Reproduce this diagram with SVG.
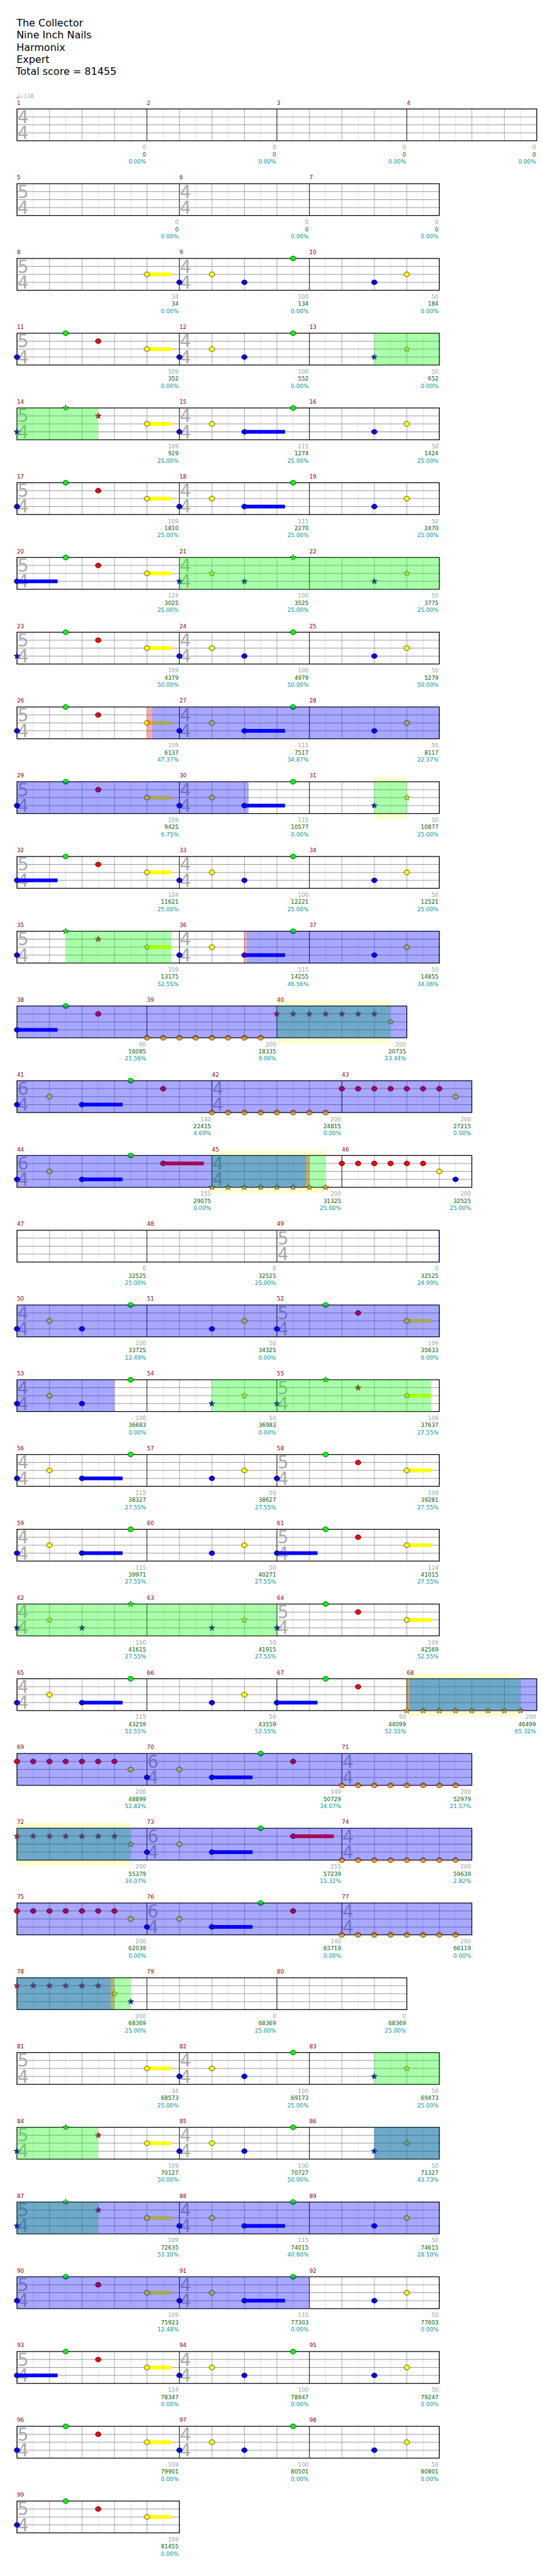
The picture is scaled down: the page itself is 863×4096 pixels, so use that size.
<svg xmlns="http://www.w3.org/2000/svg" width="863" height="4096" viewBox="0 0 863 4096">
<defs>
<style>
text{font-family:"DejaVu Sans","Liberation Sans",sans-serif}
.t{font-size:19px;fill:#000}
.mn{font-size:10.5px;fill:#8b0000}
.ts{font-size:33px;fill:#aaa}
.a,.b,.c{font-size:10.5px;text-anchor:end}
.a{fill:#a0a0a0}.b{fill:#006400}.c{fill:#009999}
.st{fill:url(#grid)}
.ln{fill:none;stroke:#999;stroke-width:1.2}
.ms{fill:none;stroke:#000;stroke-width:1}
.bd{fill:none;stroke:#000;stroke-width:1.5}
.G{fill:#00ff00}.R{fill:#ff0000}.Y{fill:#ffff00}.B{fill:#0000ff}.O{fill:#ffa500}
.ob{fill:#0000ff;fill-opacity:.34}.og{fill:#00ff00;fill-opacity:.33}.or{fill:#ff0000;fill-opacity:.33}.hl{fill:#ffffd0}
</style>
<pattern id="grid" patternUnits="userSpaceOnUse" x="31.5" y="0" width="61.25" height="60">
<rect width="61.25" height="60" fill="#fff"/>
<rect x="30.625" width="1" height="60" fill="#dddddd"/>
<rect x="0" width="1" height="60" fill="#999"/>
</pattern>
<ellipse id="n" rx="5.25" ry="4.6" stroke="#000" stroke-width="0.8"/>
<path id="s" d="M0-6L1.47-2.02 5.71-1.85 2.38.77 3.53 4.85 0 2.5-3.53 4.85-2.38.77-5.71-1.85-1.47-2.02Z" stroke="#000" stroke-width="0.6"/>
</defs>
<rect width="863" height="4096" fill="#fff"/>
<g transform="scale(0.843)">
<g id="title">
<text class="t" x="31" y="49.3">The Collector</text>
<text class="t" x="31" y="72.4">Nine Inch Nails</text>
<text class="t" x="31" y="95.5">Harmonix</text>
<text class="t" x="31" y="118.6">Expert</text>
<text class="t" x="30" y="141.7">Total score = 81455</text>
</g>

<g id="row1" transform="translate(0,205.5)">
<ellipse cx="33.5" cy="-21.3" rx="2.3" ry="1.7" fill="#aaa"/><path d="M35.6-21.3V-30" stroke="#aaa" stroke-width="0.8"/>
<text x="36.5" y="-20.5" font-size="10" fill="#aaa">=138</text>
<rect class="st" x="32" width="980" height="60"/>
<path class="ln" d="M32 15H1012M32 30H1012M32 45H1012"/>
<path class="ms" d="M277 0V60M522 0V60M767 0V60"/>
<rect class="bd" x="32" width="980" height="60"/>
<text class="ts" x="33" y="26.8">4</text><text class="ts" x="33" y="56.8">4</text>
<text class="mn" x="32" y="-8">1</text><text class="mn" x="277" y="-8">2</text><text class="mn" x="522" y="-8">3</text><text class="mn" x="767" y="-8">4</text>
<text class="a" x="275.5" y="76">0</text><text class="b" x="275.5" y="89.5">0</text><text class="c" x="275.5" y="103">0.00%</text>
<text class="a" x="520.5" y="76">0</text><text class="b" x="520.5" y="89.5">0</text><text class="c" x="520.5" y="103">0.00%</text>
<text class="a" x="765.5" y="76">0</text><text class="b" x="765.5" y="89.5">0</text><text class="c" x="765.5" y="103">0.00%</text>
<text class="a" x="1010.5" y="76">0</text><text class="b" x="1010.5" y="89.5">0</text><text class="c" x="1010.5" y="103">0.00%</text>
</g>

<g id="row2" transform="translate(0,346.5)">
<rect class="st" x="32" width="796.25" height="60"/>
<path class="ln" d="M32 15H828.25M32 30H828.25M32 45H828.25"/>
<path class="ms" d="M338.25 0V60M583.25 0V60"/>
<rect class="bd" x="32" width="796.25" height="60"/>
<text class="ts" x="33" y="26.8">5</text><text class="ts" x="33" y="56.8">4</text><text class="ts" x="339.25" y="26.8">4</text><text class="ts" x="339.25" y="56.8">4</text>
<text class="mn" x="32" y="-8">5</text><text class="mn" x="338.25" y="-8">6</text><text class="mn" x="583.25" y="-8">7</text>
<text class="a" x="336.75" y="76">0</text><text class="b" x="336.75" y="89.5">0</text><text class="c" x="336.75" y="103">0.00%</text>
<text class="a" x="581.75" y="76">0</text><text class="b" x="581.75" y="89.5">0</text><text class="c" x="581.75" y="103">0.00%</text>
<text class="a" x="826.75" y="76">0</text><text class="b" x="826.75" y="89.5">0</text><text class="c" x="826.75" y="103">0.00%</text>
</g>

<g id="row3" transform="translate(0,487.5)">
<rect class="st" x="32" width="796.25" height="60"/>
<path class="ln" d="M32 15H828.25M32 30H828.25M32 45H828.25"/>
<path class="ms" d="M338.25 0V60M583.25 0V60"/>
<rect class="bd" x="32" width="796.25" height="60"/>
<text class="ts" x="33" y="26.8">5</text><text class="ts" x="33" y="56.8">4</text><text class="ts" x="339.25" y="26.8">4</text><text class="ts" x="339.25" y="56.8">4</text>
<text class="mn" x="32" y="-8">8</text><text class="mn" x="338.25" y="-8">9</text><text class="mn" x="583.25" y="-8">10</text>
<text class="a" x="336.75" y="76">34</text><text class="b" x="336.75" y="89.5">34</text><text class="c" x="336.75" y="103">0.00%</text>
<text class="a" x="581.75" y="76">100</text><text class="b" x="581.75" y="89.5">134</text><text class="c" x="581.75" y="103">0.00%</text>
<text class="a" x="826.75" y="76">50</text><text class="b" x="826.75" y="89.5">184</text><text class="c" x="826.75" y="103">0.00%</text>
<rect class="Y" x="277" y="26.5" width="45.94" height="7"/>
<use href="#n" class="Y" x="277" y="30"/><use href="#n" class="B" x="338.25" y="45"/><use href="#n" class="Y" x="399.5" y="30"/><use href="#n" class="B" x="460.75" y="45"/><use href="#n" class="G" x="552.63" y="0"/><use href="#n" class="B" x="705.75" y="45"/><use href="#n" class="Y" x="767" y="30"/>
</g>

<g id="row4" transform="translate(0,628.5)">
<rect class="st" x="32" width="796.25" height="60"/>
<path class="ln" d="M32 15H828.25M32 30H828.25M32 45H828.25"/>
<path class="ms" d="M338.25 0V60M583.25 0V60"/>
<rect class="bd" x="32" width="796.25" height="60"/>
<text class="ts" x="33" y="26.8">5</text><text class="ts" x="33" y="56.8">4</text><text class="ts" x="339.25" y="26.8">4</text><text class="ts" x="339.25" y="56.8">4</text>
<text class="mn" x="32" y="-8">11</text><text class="mn" x="338.25" y="-8">12</text><text class="mn" x="583.25" y="-8">13</text>
<text class="a" x="336.75" y="76">109</text><text class="b" x="336.75" y="89.5">352</text><text class="c" x="336.75" y="103">0.00%</text>
<text class="a" x="581.75" y="76">100</text><text class="b" x="581.75" y="89.5">552</text><text class="c" x="581.75" y="103">0.00%</text>
<text class="a" x="826.75" y="76">50</text><text class="b" x="826.75" y="89.5">652</text><text class="c" x="826.75" y="103">0.00%</text>
<rect class="Y" x="277" y="26.5" width="45.94" height="7"/>
<use href="#n" class="B" x="32" y="45"/><use href="#n" class="G" x="123.88" y="0"/><use href="#n" class="R" x="185.13" y="15"/><use href="#n" class="Y" x="277" y="30"/><use href="#n" class="B" x="338.25" y="45"/><use href="#n" class="Y" x="399.5" y="30"/><use href="#n" class="B" x="460.75" y="45"/><use href="#n" class="G" x="552.63" y="0"/><use href="#s" class="B" x="705.75" y="45"/><use href="#s" class="Y" x="767" y="30"/>
<rect class="og" x="705.75" width="122.5" height="60"/>
</g>

<g id="row5" transform="translate(0,769.5)">
<rect class="st" x="32" width="796.25" height="60"/>
<path class="ln" d="M32 15H828.25M32 30H828.25M32 45H828.25"/>
<path class="ms" d="M338.25 0V60M583.25 0V60"/>
<rect class="bd" x="32" width="796.25" height="60"/>
<text class="ts" x="33" y="26.8">5</text><text class="ts" x="33" y="56.8">4</text><text class="ts" x="339.25" y="26.8">4</text><text class="ts" x="339.25" y="56.8">4</text>
<text class="mn" x="32" y="-8">14</text><text class="mn" x="338.25" y="-8">15</text><text class="mn" x="583.25" y="-8">16</text>
<text class="a" x="336.75" y="76">109</text><text class="b" x="336.75" y="89.5">929</text><text class="c" x="336.75" y="103">25.00%</text>
<text class="a" x="581.75" y="76">115</text><text class="b" x="581.75" y="89.5">1274</text><text class="c" x="581.75" y="103">25.00%</text>
<text class="a" x="826.75" y="76">50</text><text class="b" x="826.75" y="89.5">1424</text><text class="c" x="826.75" y="103">25.00%</text>
<rect class="Y" x="277" y="26.5" width="45.94" height="7"/><rect class="B" x="460.75" y="41.5" width="76.56" height="7"/>
<use href="#s" class="B" x="32" y="45"/><use href="#s" class="G" x="123.88" y="0"/><use href="#s" class="R" x="185.13" y="15"/><use href="#n" class="Y" x="277" y="30"/><use href="#n" class="B" x="338.25" y="45"/><use href="#n" class="Y" x="399.5" y="30"/><use href="#n" class="B" x="460.75" y="45"/><use href="#n" class="G" x="552.63" y="0"/><use href="#n" class="B" x="705.75" y="45"/><use href="#n" class="Y" x="767" y="30"/>
<rect class="og" x="32" width="153.13" height="60"/>
</g>

<g id="row6" transform="translate(0,910.5)">
<rect class="st" x="32" width="796.25" height="60"/>
<path class="ln" d="M32 15H828.25M32 30H828.25M32 45H828.25"/>
<path class="ms" d="M338.25 0V60M583.25 0V60"/>
<rect class="bd" x="32" width="796.25" height="60"/>
<text class="ts" x="33" y="26.8">5</text><text class="ts" x="33" y="56.8">4</text><text class="ts" x="339.25" y="26.8">4</text><text class="ts" x="339.25" y="56.8">4</text>
<text class="mn" x="32" y="-8">17</text><text class="mn" x="338.25" y="-8">18</text><text class="mn" x="583.25" y="-8">19</text>
<text class="a" x="336.75" y="76">109</text><text class="b" x="336.75" y="89.5">1810</text><text class="c" x="336.75" y="103">25.00%</text>
<text class="a" x="581.75" y="76">115</text><text class="b" x="581.75" y="89.5">2270</text><text class="c" x="581.75" y="103">25.00%</text>
<text class="a" x="826.75" y="76">50</text><text class="b" x="826.75" y="89.5">2470</text><text class="c" x="826.75" y="103">25.00%</text>
<rect class="Y" x="277" y="26.5" width="45.94" height="7"/><rect class="B" x="460.75" y="41.5" width="76.56" height="7"/>
<use href="#n" class="B" x="32" y="45"/><use href="#n" class="G" x="123.88" y="0"/><use href="#n" class="R" x="185.13" y="15"/><use href="#n" class="Y" x="277" y="30"/><use href="#n" class="B" x="338.25" y="45"/><use href="#n" class="Y" x="399.5" y="30"/><use href="#n" class="B" x="460.75" y="45"/><use href="#n" class="G" x="552.63" y="0"/><use href="#n" class="B" x="705.75" y="45"/><use href="#n" class="Y" x="767" y="30"/>
</g>

<g id="row7" transform="translate(0,1051.5)">
<rect class="st" x="32" width="796.25" height="60"/>
<path class="ln" d="M32 15H828.25M32 30H828.25M32 45H828.25"/>
<path class="ms" d="M338.25 0V60M583.25 0V60"/>
<rect class="bd" x="32" width="796.25" height="60"/>
<text class="ts" x="33" y="26.8">5</text><text class="ts" x="33" y="56.8">4</text><text class="ts" x="339.25" y="26.8">4</text><text class="ts" x="339.25" y="56.8">4</text>
<text class="mn" x="32" y="-8">20</text><text class="mn" x="338.25" y="-8">21</text><text class="mn" x="583.25" y="-8">22</text>
<text class="a" x="336.75" y="76">124</text><text class="b" x="336.75" y="89.5">3025</text><text class="c" x="336.75" y="103">25.00%</text>
<text class="a" x="581.75" y="76">100</text><text class="b" x="581.75" y="89.5">3525</text><text class="c" x="581.75" y="103">25.00%</text>
<text class="a" x="826.75" y="76">50</text><text class="b" x="826.75" y="89.5">3775</text><text class="c" x="826.75" y="103">25.00%</text>
<rect class="B" x="32" y="41.5" width="76.56" height="7"/><rect class="Y" x="277" y="26.5" width="45.94" height="7"/>
<use href="#n" class="B" x="32" y="45"/><use href="#n" class="G" x="123.88" y="0"/><use href="#n" class="R" x="185.13" y="15"/><use href="#n" class="Y" x="277" y="30"/><use href="#s" class="B" x="338.25" y="45"/><use href="#s" class="Y" x="399.5" y="30"/><use href="#s" class="B" x="460.75" y="45"/><use href="#s" class="G" x="552.63" y="0"/><use href="#s" class="B" x="705.75" y="45"/><use href="#s" class="Y" x="767" y="30"/>
<rect class="og" x="338.25" width="490" height="60"/>
</g>

<g id="row8" transform="translate(0,1192.5)">
<rect class="st" x="32" width="796.25" height="60"/>
<path class="ln" d="M32 15H828.25M32 30H828.25M32 45H828.25"/>
<path class="ms" d="M338.25 0V60M583.25 0V60"/>
<rect class="bd" x="32" width="796.25" height="60"/>
<text class="ts" x="33" y="26.8">5</text><text class="ts" x="33" y="56.8">4</text><text class="ts" x="339.25" y="26.8">4</text><text class="ts" x="339.25" y="56.8">4</text>
<text class="mn" x="32" y="-8">23</text><text class="mn" x="338.25" y="-8">24</text><text class="mn" x="583.25" y="-8">25</text>
<text class="a" x="336.75" y="76">109</text><text class="b" x="336.75" y="89.5">4379</text><text class="c" x="336.75" y="103">50.00%</text>
<text class="a" x="581.75" y="76">100</text><text class="b" x="581.75" y="89.5">4979</text><text class="c" x="581.75" y="103">50.00%</text>
<text class="a" x="826.75" y="76">50</text><text class="b" x="826.75" y="89.5">5279</text><text class="c" x="826.75" y="103">50.00%</text>
<rect class="Y" x="277" y="26.5" width="45.94" height="7"/>
<use href="#s" class="B" x="32" y="45"/><use href="#n" class="G" x="123.88" y="0"/><use href="#n" class="R" x="185.13" y="15"/><use href="#n" class="Y" x="277" y="30"/><use href="#n" class="B" x="338.25" y="45"/><use href="#n" class="Y" x="399.5" y="30"/><use href="#n" class="B" x="460.75" y="45"/><use href="#n" class="G" x="552.63" y="0"/><use href="#n" class="B" x="705.75" y="45"/><use href="#n" class="Y" x="767" y="30"/>
</g>

<g id="row9" transform="translate(0,1333.5)">
<rect class="st" x="32" width="796.25" height="60"/>
<path class="ln" d="M32 15H828.25M32 30H828.25M32 45H828.25"/>
<path class="ms" d="M338.25 0V60M583.25 0V60"/>
<rect class="bd" x="32" width="796.25" height="60"/>
<text class="ts" x="33" y="26.8">5</text><text class="ts" x="33" y="56.8">4</text><text class="ts" x="339.25" y="26.8">4</text><text class="ts" x="339.25" y="56.8">4</text>
<text class="mn" x="32" y="-8">26</text><text class="mn" x="338.25" y="-8">27</text><text class="mn" x="583.25" y="-8">28</text>
<text class="a" x="336.75" y="76">109</text><text class="b" x="336.75" y="89.5">6137</text><text class="c" x="336.75" y="103">47.37%</text>
<text class="a" x="581.75" y="76">115</text><text class="b" x="581.75" y="89.5">7517</text><text class="c" x="581.75" y="103">34.87%</text>
<text class="a" x="826.75" y="76">50</text><text class="b" x="826.75" y="89.5">8117</text><text class="c" x="826.75" y="103">22.37%</text>
<rect class="Y" x="277" y="26.5" width="45.94" height="7"/><rect class="B" x="460.75" y="41.5" width="76.56" height="7"/>
<use href="#n" class="B" x="32" y="45"/><use href="#n" class="G" x="123.88" y="0"/><use href="#n" class="R" x="185.13" y="15"/><use href="#n" class="Y" x="277" y="30"/><use href="#n" class="B" x="338.25" y="45"/><use href="#n" class="Y" x="399.5" y="30"/><use href="#n" class="B" x="460.75" y="45"/><use href="#n" class="G" x="552.63" y="0"/><use href="#n" class="B" x="705.75" y="45"/><use href="#n" class="Y" x="767" y="30"/>
<rect class="or" x="277" width="9.7" height="60"/><rect class="ob" x="286.7" width="541.55" height="60"/>
</g>

<g id="row10" transform="translate(0,1474.5)">
<rect class="hl" x="705.75" y="-10" width="61.25" height="81"/>
<rect class="st" x="32" width="796.25" height="60"/>
<path class="ln" d="M32 15H828.25M32 30H828.25M32 45H828.25"/>
<path class="ms" d="M338.25 0V60M583.25 0V60"/>
<rect class="bd" x="32" width="796.25" height="60"/>
<text class="ts" x="33" y="26.8">5</text><text class="ts" x="33" y="56.8">4</text><text class="ts" x="339.25" y="26.8">4</text><text class="ts" x="339.25" y="56.8">4</text>
<text class="mn" x="32" y="-8">29</text><text class="mn" x="338.25" y="-8">30</text><text class="mn" x="583.25" y="-8">31</text>
<text class="a" x="336.75" y="76">109</text><text class="b" x="336.75" y="89.5">9425</text><text class="c" x="336.75" y="103">6.75%</text>
<text class="a" x="581.75" y="76">115</text><text class="b" x="581.75" y="89.5">10577</text><text class="c" x="581.75" y="103">0.00%</text>
<text class="a" x="826.75" y="76">50</text><text class="b" x="826.75" y="89.5">10877</text><text class="c" x="826.75" y="103">25.00%</text>
<rect class="Y" x="277" y="26.5" width="45.94" height="7"/><rect class="B" x="460.75" y="41.5" width="76.56" height="7"/>
<use href="#n" class="B" x="32" y="45"/><use href="#n" class="G" x="123.88" y="0"/><use href="#n" class="R" x="185.13" y="15"/><use href="#n" class="Y" x="277" y="30"/><use href="#n" class="B" x="338.25" y="45"/><use href="#n" class="Y" x="399.5" y="30"/><use href="#n" class="B" x="460.75" y="45"/><use href="#n" class="G" x="552.63" y="0"/><use href="#s" class="B" x="705.75" y="45"/><use href="#s" class="Y" x="767" y="30"/>
<rect class="ob" x="32" width="436.7" height="60"/><rect class="og" x="705.75" width="61.25" height="60"/>
</g>

<g id="row11" transform="translate(0,1615.5)">
<rect class="st" x="32" width="796.25" height="60"/>
<path class="ln" d="M32 15H828.25M32 30H828.25M32 45H828.25"/>
<path class="ms" d="M338.25 0V60M583.25 0V60"/>
<rect class="bd" x="32" width="796.25" height="60"/>
<text class="ts" x="33" y="26.8">5</text><text class="ts" x="33" y="56.8">4</text><text class="ts" x="339.25" y="26.8">4</text><text class="ts" x="339.25" y="56.8">4</text>
<text class="mn" x="32" y="-8">32</text><text class="mn" x="338.25" y="-8">33</text><text class="mn" x="583.25" y="-8">34</text>
<text class="a" x="336.75" y="76">124</text><text class="b" x="336.75" y="89.5">11621</text><text class="c" x="336.75" y="103">25.00%</text>
<text class="a" x="581.75" y="76">100</text><text class="b" x="581.75" y="89.5">12221</text><text class="c" x="581.75" y="103">25.00%</text>
<text class="a" x="826.75" y="76">50</text><text class="b" x="826.75" y="89.5">12521</text><text class="c" x="826.75" y="103">25.00%</text>
<rect class="B" x="32" y="41.5" width="76.56" height="7"/><rect class="Y" x="277" y="26.5" width="45.94" height="7"/>
<use href="#n" class="B" x="32" y="45"/><use href="#n" class="G" x="123.88" y="0"/><use href="#n" class="R" x="185.13" y="15"/><use href="#n" class="Y" x="277" y="30"/><use href="#n" class="B" x="338.25" y="45"/><use href="#n" class="Y" x="399.5" y="30"/><use href="#n" class="B" x="460.75" y="45"/><use href="#n" class="G" x="552.63" y="0"/><use href="#n" class="B" x="705.75" y="45"/><use href="#n" class="Y" x="767" y="30"/>
</g>

<g id="row12" transform="translate(0,1756.5)">
<rect class="st" x="32" width="796.25" height="60"/>
<path class="ln" d="M32 15H828.25M32 30H828.25M32 45H828.25"/>
<path class="ms" d="M338.25 0V60M583.25 0V60"/>
<rect class="bd" x="32" width="796.25" height="60"/>
<text class="ts" x="33" y="26.8">5</text><text class="ts" x="33" y="56.8">4</text><text class="ts" x="339.25" y="26.8">4</text><text class="ts" x="339.25" y="56.8">4</text>
<text class="mn" x="32" y="-8">35</text><text class="mn" x="338.25" y="-8">36</text><text class="mn" x="583.25" y="-8">37</text>
<text class="a" x="336.75" y="76">109</text><text class="b" x="336.75" y="89.5">13175</text><text class="c" x="336.75" y="103">52.55%</text>
<text class="a" x="581.75" y="76">115</text><text class="b" x="581.75" y="89.5">14255</text><text class="c" x="581.75" y="103">46.56%</text>
<text class="a" x="826.75" y="76">50</text><text class="b" x="826.75" y="89.5">14855</text><text class="c" x="826.75" y="103">34.06%</text>
<rect class="Y" x="277" y="26.5" width="45.94" height="7"/><rect class="B" x="460.75" y="41.5" width="76.56" height="7"/>
<use href="#n" class="B" x="32" y="45"/><use href="#s" class="G" x="123.88" y="0"/><use href="#s" class="R" x="185.13" y="15"/><use href="#s" class="Y" x="277" y="30"/><use href="#n" class="B" x="338.25" y="45"/><use href="#n" class="Y" x="399.5" y="30"/><use href="#n" class="B" x="460.75" y="45"/><use href="#n" class="G" x="552.63" y="0"/><use href="#n" class="B" x="705.75" y="45"/><use href="#n" class="Y" x="767" y="30"/>
<rect class="og" x="123.88" width="199.06" height="60"/><rect class="or" x="460" width="4.7" height="60"/><rect class="ob" x="464.7" width="363.55" height="60"/>
</g>

<g id="row13" transform="translate(0,1897.5)">
<rect class="hl" x="522" y="-10" width="214.38" height="81"/>
<rect class="st" x="32" width="735" height="60"/>
<path class="ln" d="M32 15H767M32 30H767M32 45H767"/>
<path class="ms" d="M277 0V60M522 0V60"/>
<rect class="bd" x="32" width="735" height="60"/>
<text class="mn" x="32" y="-8">38</text><text class="mn" x="277" y="-8">39</text><text class="mn" x="522" y="-8">40</text>
<text class="a" x="275.5" y="76">90</text><text class="b" x="275.5" y="89.5">16085</text><text class="c" x="275.5" y="103">21.56%</text>
<text class="a" x="520.5" y="76">200</text><text class="b" x="520.5" y="89.5">18335</text><text class="c" x="520.5" y="103">9.06%</text>
<text class="a" x="765.5" y="76">200</text><text class="b" x="765.5" y="89.5">20735</text><text class="c" x="765.5" y="103">23.44%</text>
<rect class="B" x="32" y="41.5" width="76.56" height="7"/>
<use href="#n" class="B" x="32" y="45"/><use href="#n" class="G" x="123.88" y="0"/><use href="#n" class="R" x="185.13" y="15"/>
<use href="#n" class="O" x="277" y="60"/><use href="#n" class="O" x="307.63" y="60"/><use href="#n" class="O" x="338.25" y="60"/><use href="#n" class="O" x="368.88" y="60"/><use href="#n" class="O" x="399.5" y="60"/><use href="#n" class="O" x="430.13" y="60"/><use href="#n" class="O" x="460.75" y="60"/><use href="#n" class="O" x="491.38" y="60"/>
<use href="#s" class="R" x="522" y="15"/><use href="#s" class="R" x="552.63" y="15"/><use href="#s" class="R" x="583.25" y="15"/><use href="#s" class="R" x="613.88" y="15"/><use href="#s" class="R" x="644.5" y="15"/><use href="#s" class="R" x="675.13" y="15"/><use href="#s" class="R" x="705.75" y="15"/><use href="#s" class="Y" x="736.38" y="30"/>
<rect class="og" x="522" width="214.38" height="60"/><rect class="ob" x="32" width="735" height="60"/>
</g>

<g id="row14" transform="translate(0,2038.5)">
<rect class="st" x="32" width="857.5" height="60"/>
<path class="ln" d="M32 15H889.5M32 30H889.5M32 45H889.5"/>
<path class="ms" d="M399.5 0V60M644.5 0V60"/>
<rect class="bd" x="32" width="857.5" height="60"/>
<text class="ts" x="33" y="26.8">6</text><text class="ts" x="33" y="56.8">4</text><text class="ts" x="400.5" y="26.8">4</text><text class="ts" x="400.5" y="56.8">4</text>
<text class="mn" x="32" y="-8">41</text><text class="mn" x="399.5" y="-8">42</text><text class="mn" x="644.5" y="-8">43</text>
<text class="a" x="398" y="76">140</text><text class="b" x="398" y="89.5">22415</text><text class="c" x="398" y="103">4.69%</text>
<text class="a" x="643" y="76">200</text><text class="b" x="643" y="89.5">24815</text><text class="c" x="643" y="103">0.00%</text>
<text class="a" x="888" y="76">200</text><text class="b" x="888" y="89.5">27215</text><text class="c" x="888" y="103">0.00%</text>
<rect class="B" x="154.5" y="41.5" width="76.56" height="7"/>
<use href="#n" class="B" x="32" y="45"/><use href="#n" class="Y" x="93.25" y="30"/><use href="#n" class="B" x="154.5" y="45"/><use href="#n" class="G" x="246.38" y="0"/><use href="#n" class="R" x="307.63" y="15"/>
<use href="#n" class="O" x="399.5" y="60"/><use href="#n" class="O" x="430.13" y="60"/><use href="#n" class="O" x="460.75" y="60"/><use href="#n" class="O" x="491.38" y="60"/><use href="#n" class="O" x="522" y="60"/><use href="#n" class="O" x="552.63" y="60"/><use href="#n" class="O" x="583.25" y="60"/><use href="#n" class="O" x="613.88" y="60"/>
<use href="#n" class="R" x="644.5" y="15"/><use href="#n" class="R" x="675.13" y="15"/><use href="#n" class="R" x="705.75" y="15"/><use href="#n" class="R" x="736.38" y="15"/><use href="#n" class="R" x="767" y="15"/><use href="#n" class="R" x="797.63" y="15"/><use href="#n" class="R" x="828.25" y="15"/><use href="#n" class="Y" x="858.88" y="30"/>
<rect class="ob" x="32" width="857.5" height="60"/>
</g>

<g id="row15" transform="translate(0,2179.5)">
<rect class="hl" x="399.5" y="-10" width="214.38" height="81"/>
<rect class="st" x="32" width="857.5" height="60"/>
<path class="ln" d="M32 15H889.5M32 30H889.5M32 45H889.5"/>
<path class="ms" d="M399.5 0V60M644.5 0V60"/>
<rect class="bd" x="32" width="857.5" height="60"/>
<text class="ts" x="33" y="26.8">6</text><text class="ts" x="33" y="56.8">4</text><text class="ts" x="400.5" y="26.8">4</text><text class="ts" x="400.5" y="56.8">4</text>
<text class="mn" x="32" y="-8">44</text><text class="mn" x="399.5" y="-8">45</text><text class="mn" x="644.5" y="-8">46</text>
<text class="a" x="398" y="76">155</text><text class="b" x="398" y="89.5">29075</text><text class="c" x="398" y="103">0.00%</text>
<text class="a" x="643" y="76">200</text><text class="b" x="643" y="89.5">31325</text><text class="c" x="643" y="103">25.00%</text>
<text class="a" x="888" y="76">200</text><text class="b" x="888" y="89.5">32525</text><text class="c" x="888" y="103">25.00%</text>
<rect class="B" x="154.5" y="41.5" width="76.56" height="7"/><rect class="R" x="307.63" y="11.5" width="76.56" height="7"/>
<use href="#n" class="B" x="32" y="45"/><use href="#n" class="Y" x="93.25" y="30"/><use href="#n" class="B" x="154.5" y="45"/><use href="#n" class="G" x="246.38" y="0"/><use href="#n" class="R" x="307.63" y="15"/>
<use href="#s" class="O" x="399.5" y="60"/><use href="#s" class="O" x="430.13" y="60"/><use href="#s" class="O" x="460.75" y="60"/><use href="#s" class="O" x="491.38" y="60"/><use href="#s" class="O" x="522" y="60"/><use href="#s" class="O" x="552.63" y="60"/><use href="#s" class="O" x="583.25" y="60"/><use href="#s" class="O" x="613.88" y="60"/>
<use href="#n" class="R" x="644.5" y="15"/><use href="#n" class="R" x="675.13" y="15"/><use href="#n" class="R" x="705.75" y="15"/><use href="#n" class="R" x="736.38" y="15"/><use href="#n" class="R" x="767" y="15"/><use href="#n" class="R" x="797.63" y="15"/><use href="#n" class="Y" x="828.25" y="30"/><use href="#n" class="B" x="858.88" y="45"/>
<rect class="og" x="399.5" width="214.38" height="60"/><rect class="ob" x="32" width="544.7" height="60"/><rect class="or" x="576.7" width="6.6" height="60"/>
</g>

<g id="row16" transform="translate(0,2320.5)">
<rect class="st" x="32" width="796.25" height="60"/>
<path class="ln" d="M32 15H828.25M32 30H828.25M32 45H828.25"/>
<path class="ms" d="M277 0V60M522 0V60"/>
<rect class="bd" x="32" width="796.25" height="60"/>
<text class="ts" x="523" y="26.8">5</text><text class="ts" x="523" y="56.8">4</text>
<text class="mn" x="32" y="-8">47</text><text class="mn" x="277" y="-8">48</text><text class="mn" x="522" y="-8">49</text>
<text class="a" x="275.5" y="76">0</text><text class="b" x="275.5" y="89.5">32525</text><text class="c" x="275.5" y="103">25.00%</text>
<text class="a" x="520.5" y="76">0</text><text class="b" x="520.5" y="89.5">32525</text><text class="c" x="520.5" y="103">25.00%</text>
<text class="a" x="826.75" y="76">0</text><text class="b" x="826.75" y="89.5">32525</text><text class="c" x="826.75" y="103">24.99%</text>
<rect class="ob" x="826.75" width="1.5" height="60"/>
</g>

<g id="row17" transform="translate(0,2461.5)">
<rect class="st" x="32" width="796.25" height="60"/>
<path class="ln" d="M32 15H828.25M32 30H828.25M32 45H828.25"/>
<path class="ms" d="M277 0V60M522 0V60"/>
<rect class="bd" x="32" width="796.25" height="60"/>
<text class="ts" x="33" y="26.8">4</text><text class="ts" x="33" y="56.8">4</text><text class="ts" x="523" y="26.8">5</text><text class="ts" x="523" y="56.8">4</text>
<text class="mn" x="32" y="-8">50</text><text class="mn" x="277" y="-8">51</text><text class="mn" x="522" y="-8">52</text>
<text class="a" x="275.5" y="76">100</text><text class="b" x="275.5" y="89.5">33725</text><text class="c" x="275.5" y="103">12.49%</text>
<text class="a" x="520.5" y="76">50</text><text class="b" x="520.5" y="89.5">34325</text><text class="c" x="520.5" y="103">0.00%</text>
<text class="a" x="826.75" y="76">109</text><text class="b" x="826.75" y="89.5">35633</text><text class="c" x="826.75" y="103">0.00%</text>
<rect class="Y" x="767" y="26.5" width="45.94" height="7"/>
<use href="#n" class="B" x="32" y="45"/><use href="#n" class="Y" x="93.25" y="30"/><use href="#n" class="B" x="154.5" y="45"/><use href="#n" class="G" x="246.38" y="0"/><use href="#n" class="B" x="399.5" y="45"/><use href="#n" class="Y" x="460.75" y="30"/><use href="#n" class="B" x="522" y="45"/><use href="#n" class="G" x="613.88" y="0"/><use href="#n" class="R" x="675.13" y="15"/><use href="#n" class="Y" x="767" y="30"/>
<rect class="ob" x="32" width="796.25" height="60"/>
</g>

<g id="row18" transform="translate(0,2602.5)">
<rect class="st" x="32" width="796.25" height="60"/>
<path class="ln" d="M32 15H828.25M32 30H828.25M32 45H828.25"/>
<path class="ms" d="M277 0V60M522 0V60"/>
<rect class="bd" x="32" width="796.25" height="60"/>
<text class="ts" x="33" y="26.8">4</text><text class="ts" x="33" y="56.8">4</text><text class="ts" x="523" y="26.8">5</text><text class="ts" x="523" y="56.8">4</text>
<text class="mn" x="32" y="-8">53</text><text class="mn" x="277" y="-8">54</text><text class="mn" x="522" y="-8">55</text>
<text class="a" x="275.5" y="76">100</text><text class="b" x="275.5" y="89.5">36683</text><text class="c" x="275.5" y="103">0.00%</text>
<text class="a" x="520.5" y="76">50</text><text class="b" x="520.5" y="89.5">36983</text><text class="c" x="520.5" y="103">0.00%</text>
<text class="a" x="826.75" y="76">109</text><text class="b" x="826.75" y="89.5">37637</text><text class="c" x="826.75" y="103">27.55%</text>
<rect class="Y" x="767" y="26.5" width="45.94" height="7"/>
<use href="#n" class="B" x="32" y="45"/><use href="#n" class="Y" x="93.25" y="30"/><use href="#n" class="B" x="154.5" y="45"/><use href="#n" class="G" x="246.38" y="0"/><use href="#s" class="B" x="399.5" y="45"/><use href="#s" class="Y" x="460.75" y="30"/><use href="#s" class="B" x="522" y="45"/><use href="#s" class="G" x="613.88" y="0"/><use href="#s" class="R" x="675.13" y="15"/><use href="#s" class="Y" x="767" y="30"/>
<rect class="ob" x="32" width="183.75" height="60"/><rect class="og" x="399.5" width="413.44" height="60"/>
</g>

<g id="row19" transform="translate(0,2743.5)">
<rect class="st" x="32" width="796.25" height="60"/>
<path class="ln" d="M32 15H828.25M32 30H828.25M32 45H828.25"/>
<path class="ms" d="M277 0V60M522 0V60"/>
<rect class="bd" x="32" width="796.25" height="60"/>
<text class="ts" x="33" y="26.8">4</text><text class="ts" x="33" y="56.8">4</text><text class="ts" x="523" y="26.8">5</text><text class="ts" x="523" y="56.8">4</text>
<text class="mn" x="32" y="-8">56</text><text class="mn" x="277" y="-8">57</text><text class="mn" x="522" y="-8">58</text>
<text class="a" x="275.5" y="76">115</text><text class="b" x="275.5" y="89.5">38327</text><text class="c" x="275.5" y="103">27.55%</text>
<text class="a" x="520.5" y="76">50</text><text class="b" x="520.5" y="89.5">38627</text><text class="c" x="520.5" y="103">27.55%</text>
<text class="a" x="826.75" y="76">109</text><text class="b" x="826.75" y="89.5">39281</text><text class="c" x="826.75" y="103">27.55%</text>
<rect class="B" x="154.5" y="41.5" width="76.56" height="7"/><rect class="Y" x="767" y="26.5" width="45.94" height="7"/>
<use href="#n" class="B" x="32" y="45"/><use href="#n" class="Y" x="93.25" y="30"/><use href="#n" class="B" x="154.5" y="45"/><use href="#n" class="G" x="246.38" y="0"/><use href="#n" class="B" x="399.5" y="45"/><use href="#n" class="Y" x="460.75" y="30"/><use href="#n" class="B" x="522" y="45"/><use href="#n" class="G" x="613.88" y="0"/><use href="#n" class="R" x="675.13" y="15"/><use href="#n" class="Y" x="767" y="30"/>
</g>

<g id="row20" transform="translate(0,2884.5)">
<rect class="st" x="32" width="796.25" height="60"/>
<path class="ln" d="M32 15H828.25M32 30H828.25M32 45H828.25"/>
<path class="ms" d="M277 0V60M522 0V60"/>
<rect class="bd" x="32" width="796.25" height="60"/>
<text class="ts" x="33" y="26.8">4</text><text class="ts" x="33" y="56.8">4</text><text class="ts" x="523" y="26.8">5</text><text class="ts" x="523" y="56.8">4</text>
<text class="mn" x="32" y="-8">59</text><text class="mn" x="277" y="-8">60</text><text class="mn" x="522" y="-8">61</text>
<text class="a" x="275.5" y="76">115</text><text class="b" x="275.5" y="89.5">39971</text><text class="c" x="275.5" y="103">27.55%</text>
<text class="a" x="520.5" y="76">50</text><text class="b" x="520.5" y="89.5">40271</text><text class="c" x="520.5" y="103">27.55%</text>
<text class="a" x="826.75" y="76">124</text><text class="b" x="826.75" y="89.5">41015</text><text class="c" x="826.75" y="103">27.55%</text>
<rect class="B" x="154.5" y="41.5" width="76.56" height="7"/><rect class="B" x="522" y="41.5" width="76.56" height="7"/><rect class="Y" x="767" y="26.5" width="45.94" height="7"/>
<use href="#n" class="B" x="32" y="45"/><use href="#n" class="Y" x="93.25" y="30"/><use href="#n" class="B" x="154.5" y="45"/><use href="#n" class="G" x="246.38" y="0"/><use href="#n" class="B" x="399.5" y="45"/><use href="#n" class="Y" x="460.75" y="30"/><use href="#n" class="B" x="522" y="45"/><use href="#n" class="G" x="613.88" y="0"/><use href="#n" class="R" x="675.13" y="15"/><use href="#n" class="Y" x="767" y="30"/>
</g>

<g id="row21" transform="translate(0,3025.5)">
<rect class="st" x="32" width="796.25" height="60"/>
<path class="ln" d="M32 15H828.25M32 30H828.25M32 45H828.25"/>
<path class="ms" d="M277 0V60M522 0V60"/>
<rect class="bd" x="32" width="796.25" height="60"/>
<text class="ts" x="33" y="26.8">4</text><text class="ts" x="33" y="56.8">4</text><text class="ts" x="523" y="26.8">5</text><text class="ts" x="523" y="56.8">4</text>
<text class="mn" x="32" y="-8">62</text><text class="mn" x="277" y="-8">63</text><text class="mn" x="522" y="-8">64</text>
<text class="a" x="275.5" y="76">100</text><text class="b" x="275.5" y="89.5">41615</text><text class="c" x="275.5" y="103">27.55%</text>
<text class="a" x="520.5" y="76">50</text><text class="b" x="520.5" y="89.5">41915</text><text class="c" x="520.5" y="103">27.55%</text>
<text class="a" x="826.75" y="76">109</text><text class="b" x="826.75" y="89.5">42569</text><text class="c" x="826.75" y="103">52.55%</text>
<rect class="Y" x="767" y="26.5" width="45.94" height="7"/>
<use href="#s" class="B" x="32" y="45"/><use href="#s" class="Y" x="93.25" y="30"/><use href="#s" class="B" x="154.5" y="45"/><use href="#s" class="G" x="246.38" y="0"/><use href="#s" class="B" x="399.5" y="45"/><use href="#s" class="Y" x="460.75" y="30"/><use href="#s" class="B" x="522" y="45"/><use href="#n" class="G" x="613.88" y="0"/><use href="#n" class="R" x="675.13" y="15"/><use href="#n" class="Y" x="767" y="30"/>
<rect class="og" x="32" width="490" height="60"/>
</g>

<g id="row22" transform="translate(0,3166.5)">
<rect class="hl" x="767" y="-10" width="214.38" height="81"/>
<rect class="st" x="32" width="980" height="60"/>
<path class="ln" d="M32 15H1012M32 30H1012M32 45H1012"/>
<path class="ms" d="M277 0V60M522 0V60M767 0V60"/>
<rect class="bd" x="32" width="980" height="60"/>
<text class="ts" x="33" y="26.8">4</text><text class="ts" x="33" y="56.8">4</text>
<text class="mn" x="32" y="-8">65</text><text class="mn" x="277" y="-8">66</text><text class="mn" x="522" y="-8">67</text><text class="mn" x="767" y="-8">68</text>
<text class="a" x="275.5" y="76">115</text><text class="b" x="275.5" y="89.5">43259</text><text class="c" x="275.5" y="103">52.55%</text>
<text class="a" x="520.5" y="76">50</text><text class="b" x="520.5" y="89.5">43559</text><text class="c" x="520.5" y="103">52.55%</text>
<text class="a" x="765.5" y="76">90</text><text class="b" x="765.5" y="89.5">44099</text><text class="c" x="765.5" y="103">52.55%</text>
<text class="a" x="1010.5" y="76">200</text><text class="b" x="1010.5" y="89.5">46499</text><text class="c" x="1010.5" y="103">65.32%</text>
<rect class="B" x="154.5" y="41.5" width="76.56" height="7"/><rect class="B" x="522" y="41.5" width="76.56" height="7"/>
<use href="#n" class="B" x="32" y="45"/><use href="#n" class="Y" x="93.25" y="30"/><use href="#n" class="B" x="154.5" y="45"/><use href="#n" class="G" x="246.38" y="0"/><use href="#n" class="B" x="399.5" y="45"/><use href="#n" class="Y" x="460.75" y="30"/><use href="#n" class="B" x="522" y="45"/><use href="#n" class="G" x="613.88" y="0"/><use href="#n" class="R" x="675.13" y="15"/>
<use href="#s" class="O" x="767" y="60"/><use href="#s" class="O" x="797.63" y="60"/><use href="#s" class="O" x="828.25" y="60"/><use href="#s" class="O" x="858.88" y="60"/><use href="#s" class="O" x="889.5" y="60"/><use href="#s" class="O" x="920.13" y="60"/><use href="#s" class="O" x="950.75" y="60"/><use href="#s" class="O" x="981.38" y="60"/>
<rect class="og" x="767" width="214.38" height="60"/><rect class="or" x="767" width="4.7" height="60"/><rect class="ob" x="771.7" width="240.3" height="60"/>
</g>

<g id="row23" transform="translate(0,3307.5)">
<rect class="st" x="32" width="857.5" height="60"/>
<path class="ln" d="M32 15H889.5M32 30H889.5M32 45H889.5"/>
<path class="ms" d="M277 0V60M644.5 0V60"/>
<rect class="bd" x="32" width="857.5" height="60"/>
<text class="ts" x="278" y="26.8">6</text><text class="ts" x="278" y="56.8">4</text><text class="ts" x="645.5" y="26.8">4</text><text class="ts" x="645.5" y="56.8">4</text>
<text class="mn" x="32" y="-8">69</text><text class="mn" x="277" y="-8">70</text><text class="mn" x="644.5" y="-8">71</text>
<text class="a" x="275.5" y="76">200</text><text class="b" x="275.5" y="89.5">48899</text><text class="c" x="275.5" y="103">52.82%</text>
<text class="a" x="643" y="76">140</text><text class="b" x="643" y="89.5">50729</text><text class="c" x="643" y="103">34.07%</text>
<text class="a" x="888" y="76">200</text><text class="b" x="888" y="89.5">52979</text><text class="c" x="888" y="103">21.57%</text>
<rect class="B" x="399.5" y="41.5" width="76.56" height="7"/>
<use href="#n" class="R" x="32" y="15"/><use href="#n" class="R" x="62.63" y="15"/><use href="#n" class="R" x="93.25" y="15"/><use href="#n" class="R" x="123.88" y="15"/><use href="#n" class="R" x="154.5" y="15"/><use href="#n" class="R" x="185.13" y="15"/><use href="#n" class="R" x="215.75" y="15"/><use href="#n" class="Y" x="246.38" y="30"/>
<use href="#n" class="B" x="277" y="45"/><use href="#n" class="Y" x="338.25" y="30"/><use href="#n" class="B" x="399.5" y="45"/><use href="#n" class="G" x="491.38" y="0"/><use href="#n" class="R" x="552.63" y="15"/>
<use href="#n" class="O" x="644.5" y="60"/><use href="#n" class="O" x="675.13" y="60"/><use href="#n" class="O" x="705.75" y="60"/><use href="#n" class="O" x="736.38" y="60"/><use href="#n" class="O" x="767" y="60"/><use href="#n" class="O" x="797.63" y="60"/><use href="#n" class="O" x="828.25" y="60"/><use href="#n" class="O" x="858.88" y="60"/>
<rect class="ob" x="32" width="857.5" height="60"/>
</g>

<g id="row24" transform="translate(0,3448.5)">
<rect class="hl" x="32" y="-10" width="214.38" height="81"/>
<rect class="st" x="32" width="857.5" height="60"/>
<path class="ln" d="M32 15H889.5M32 30H889.5M32 45H889.5"/>
<path class="ms" d="M277 0V60M644.5 0V60"/>
<rect class="bd" x="32" width="857.5" height="60"/>
<text class="ts" x="278" y="26.8">6</text><text class="ts" x="278" y="56.8">4</text><text class="ts" x="645.5" y="26.8">4</text><text class="ts" x="645.5" y="56.8">4</text>
<text class="mn" x="32" y="-8">72</text><text class="mn" x="277" y="-8">73</text><text class="mn" x="644.5" y="-8">74</text>
<text class="a" x="275.5" y="76">200</text><text class="b" x="275.5" y="89.5">55379</text><text class="c" x="275.5" y="103">34.07%</text>
<text class="a" x="643" y="76">155</text><text class="b" x="643" y="89.5">57239</text><text class="c" x="643" y="103">15.32%</text>
<text class="a" x="888" y="76">200</text><text class="b" x="888" y="89.5">59639</text><text class="c" x="888" y="103">2.82%</text>
<rect class="B" x="399.5" y="41.5" width="76.56" height="7"/><rect class="R" x="552.63" y="11.5" width="76.56" height="7"/>
<use href="#s" class="R" x="32" y="15"/><use href="#s" class="R" x="62.63" y="15"/><use href="#s" class="R" x="93.25" y="15"/><use href="#s" class="R" x="123.88" y="15"/><use href="#s" class="R" x="154.5" y="15"/><use href="#s" class="R" x="185.13" y="15"/><use href="#s" class="R" x="215.75" y="15"/><use href="#s" class="Y" x="246.38" y="30"/>
<use href="#n" class="B" x="277" y="45"/><use href="#n" class="Y" x="338.25" y="30"/><use href="#n" class="B" x="399.5" y="45"/><use href="#n" class="G" x="491.38" y="0"/><use href="#n" class="R" x="552.63" y="15"/>
<use href="#n" class="O" x="644.5" y="60"/><use href="#n" class="O" x="675.13" y="60"/><use href="#n" class="O" x="705.75" y="60"/><use href="#n" class="O" x="736.38" y="60"/><use href="#n" class="O" x="767" y="60"/><use href="#n" class="O" x="797.63" y="60"/><use href="#n" class="O" x="828.25" y="60"/><use href="#n" class="O" x="858.88" y="60"/>
<rect class="og" x="32" width="214.38" height="60"/><rect class="ob" x="32" width="857.5" height="60"/>
</g>

<g id="row25" transform="translate(0,3589.5)">
<rect class="st" x="32" width="857.5" height="60"/>
<path class="ln" d="M32 15H889.5M32 30H889.5M32 45H889.5"/>
<path class="ms" d="M277 0V60M644.5 0V60"/>
<rect class="bd" x="32" width="857.5" height="60"/>
<text class="ts" x="278" y="26.8">6</text><text class="ts" x="278" y="56.8">4</text><text class="ts" x="645.5" y="26.8">4</text><text class="ts" x="645.5" y="56.8">4</text>
<text class="mn" x="32" y="-8">75</text><text class="mn" x="277" y="-8">76</text><text class="mn" x="644.5" y="-8">77</text>
<text class="a" x="275.5" y="76">200</text><text class="b" x="275.5" y="89.5">62039</text><text class="c" x="275.5" y="103">0.00%</text>
<text class="a" x="643" y="76">140</text><text class="b" x="643" y="89.5">63719</text><text class="c" x="643" y="103">0.00%</text>
<text class="a" x="888" y="76">200</text><text class="b" x="888" y="89.5">66119</text><text class="c" x="888" y="103">0.00%</text>
<rect class="B" x="399.5" y="41.5" width="76.56" height="7"/>
<use href="#n" class="R" x="32" y="15"/><use href="#n" class="R" x="62.63" y="15"/><use href="#n" class="R" x="93.25" y="15"/><use href="#n" class="R" x="123.88" y="15"/><use href="#n" class="R" x="154.5" y="15"/><use href="#n" class="R" x="185.13" y="15"/><use href="#n" class="R" x="215.75" y="15"/><use href="#n" class="Y" x="246.38" y="30"/>
<use href="#n" class="B" x="277" y="45"/><use href="#n" class="Y" x="338.25" y="30"/><use href="#n" class="B" x="399.5" y="45"/><use href="#n" class="G" x="491.38" y="0"/><use href="#n" class="R" x="552.63" y="15"/>
<use href="#n" class="O" x="644.5" y="60"/><use href="#n" class="O" x="675.13" y="60"/><use href="#n" class="O" x="705.75" y="60"/><use href="#n" class="O" x="736.38" y="60"/><use href="#n" class="O" x="767" y="60"/><use href="#n" class="O" x="797.63" y="60"/><use href="#n" class="O" x="828.25" y="60"/><use href="#n" class="O" x="858.88" y="60"/>
<rect class="ob" x="32" width="857.5" height="60"/>
</g>

<g id="row26" transform="translate(0,3730.5)">
<rect class="st" x="32" width="735" height="60"/>
<path class="ln" d="M32 15H767M32 30H767M32 45H767"/>
<path class="ms" d="M277 0V60M522 0V60"/>
<rect class="bd" x="32" width="735" height="60"/>
<text class="mn" x="32" y="-8">78</text><text class="mn" x="277" y="-8">79</text><text class="mn" x="522" y="-8">80</text>
<text class="a" x="275.5" y="76">200</text><text class="b" x="275.5" y="89.5">68369</text><text class="c" x="275.5" y="103">25.00%</text>
<text class="a" x="520.5" y="76">0</text><text class="b" x="520.5" y="89.5">68369</text><text class="c" x="520.5" y="103">25.00%</text>
<text class="a" x="765.5" y="76">0</text><text class="b" x="765.5" y="89.5">68369</text><text class="c" x="765.5" y="103">25.00%</text>
<use href="#s" class="R" x="32" y="15"/><use href="#s" class="R" x="62.63" y="15"/><use href="#s" class="R" x="93.25" y="15"/><use href="#s" class="R" x="123.88" y="15"/><use href="#s" class="R" x="154.5" y="15"/><use href="#s" class="R" x="185.13" y="15"/><use href="#s" class="Y" x="215.75" y="30"/><use href="#s" class="B" x="246.38" y="45"/>
<rect class="og" x="32" width="214.38" height="60"/><rect class="ob" x="32" width="176.7" height="60"/><rect class="or" x="208.7" width="6.6" height="60"/>
</g>

<g id="row27" transform="translate(0,3871.5)">
<rect class="st" x="32" width="796.25" height="60"/>
<path class="ln" d="M32 15H828.25M32 30H828.25M32 45H828.25"/>
<path class="ms" d="M338.25 0V60M583.25 0V60"/>
<rect class="bd" x="32" width="796.25" height="60"/>
<text class="ts" x="33" y="26.8">5</text><text class="ts" x="33" y="56.8">4</text><text class="ts" x="339.25" y="26.8">4</text><text class="ts" x="339.25" y="56.8">4</text>
<text class="mn" x="32" y="-8">81</text><text class="mn" x="338.25" y="-8">82</text><text class="mn" x="583.25" y="-8">83</text>
<text class="a" x="336.75" y="76">34</text><text class="b" x="336.75" y="89.5">68573</text><text class="c" x="336.75" y="103">25.00%</text>
<text class="a" x="581.75" y="76">100</text><text class="b" x="581.75" y="89.5">69173</text><text class="c" x="581.75" y="103">25.00%</text>
<text class="a" x="826.75" y="76">50</text><text class="b" x="826.75" y="89.5">69473</text><text class="c" x="826.75" y="103">25.00%</text>
<rect class="Y" x="277" y="26.5" width="45.94" height="7"/>
<use href="#n" class="Y" x="277" y="30"/><use href="#n" class="B" x="338.25" y="45"/><use href="#n" class="Y" x="399.5" y="30"/><use href="#n" class="B" x="460.75" y="45"/><use href="#n" class="G" x="552.63" y="0"/><use href="#s" class="B" x="705.75" y="45"/><use href="#s" class="Y" x="767" y="30"/>
<rect class="og" x="705.75" width="122.5" height="60"/>
</g>

<g id="row28" transform="translate(0,4012.5)">
<rect class="st" x="32" width="796.25" height="60"/>
<path class="ln" d="M32 15H828.25M32 30H828.25M32 45H828.25"/>
<path class="ms" d="M338.25 0V60M583.25 0V60"/>
<rect class="bd" x="32" width="796.25" height="60"/>
<text class="ts" x="33" y="26.8">5</text><text class="ts" x="33" y="56.8">4</text><text class="ts" x="339.25" y="26.8">4</text><text class="ts" x="339.25" y="56.8">4</text>
<text class="mn" x="32" y="-8">84</text><text class="mn" x="338.25" y="-8">85</text><text class="mn" x="583.25" y="-8">86</text>
<text class="a" x="336.75" y="76">109</text><text class="b" x="336.75" y="89.5">70127</text><text class="c" x="336.75" y="103">50.00%</text>
<text class="a" x="581.75" y="76">100</text><text class="b" x="581.75" y="89.5">70727</text><text class="c" x="581.75" y="103">50.00%</text>
<text class="a" x="826.75" y="76">50</text><text class="b" x="826.75" y="89.5">71327</text><text class="c" x="826.75" y="103">43.73%</text>
<rect class="Y" x="277" y="26.5" width="45.94" height="7"/>
<use href="#s" class="B" x="32" y="45"/><use href="#s" class="G" x="123.88" y="0"/><use href="#s" class="R" x="185.13" y="15"/><use href="#n" class="Y" x="277" y="30"/><use href="#n" class="B" x="338.25" y="45"/><use href="#n" class="Y" x="399.5" y="30"/><use href="#n" class="B" x="460.75" y="45"/><use href="#n" class="G" x="552.63" y="0"/><use href="#s" class="B" x="705.75" y="45"/><use href="#s" class="Y" x="767" y="30"/>
<rect class="og" x="32" width="153.13" height="60"/><rect class="og" x="705.75" width="122.5" height="60"/><rect class="ob" x="705.75" width="122.5" height="60"/>
</g>

<g id="row29" transform="translate(0,4153.5)">
<rect class="st" x="32" width="796.25" height="60"/>
<path class="ln" d="M32 15H828.25M32 30H828.25M32 45H828.25"/>
<path class="ms" d="M338.25 0V60M583.25 0V60"/>
<rect class="bd" x="32" width="796.25" height="60"/>
<text class="ts" x="33" y="26.8">5</text><text class="ts" x="33" y="56.8">4</text><text class="ts" x="339.25" y="26.8">4</text><text class="ts" x="339.25" y="56.8">4</text>
<text class="mn" x="32" y="-8">87</text><text class="mn" x="338.25" y="-8">88</text><text class="mn" x="583.25" y="-8">89</text>
<text class="a" x="336.75" y="76">109</text><text class="b" x="336.75" y="89.5">72635</text><text class="c" x="336.75" y="103">53.10%</text>
<text class="a" x="581.75" y="76">115</text><text class="b" x="581.75" y="89.5">74015</text><text class="c" x="581.75" y="103">40.60%</text>
<text class="a" x="826.75" y="76">50</text><text class="b" x="826.75" y="89.5">74615</text><text class="c" x="826.75" y="103">28.10%</text>
<rect class="Y" x="277" y="26.5" width="45.94" height="7"/><rect class="B" x="460.75" y="41.5" width="76.56" height="7"/>
<use href="#s" class="B" x="32" y="45"/><use href="#s" class="G" x="123.88" y="0"/><use href="#s" class="R" x="185.13" y="15"/><use href="#n" class="Y" x="277" y="30"/><use href="#n" class="B" x="338.25" y="45"/><use href="#n" class="Y" x="399.5" y="30"/><use href="#n" class="B" x="460.75" y="45"/><use href="#n" class="G" x="552.63" y="0"/><use href="#n" class="B" x="705.75" y="45"/><use href="#n" class="Y" x="767" y="30"/>
<rect class="og" x="32" width="153.13" height="60"/><rect class="ob" x="32" width="796.25" height="60"/>
</g>

<g id="row30" transform="translate(0,4294.5)">
<rect class="st" x="32" width="796.25" height="60"/>
<path class="ln" d="M32 15H828.25M32 30H828.25M32 45H828.25"/>
<path class="ms" d="M338.25 0V60M583.25 0V60"/>
<rect class="bd" x="32" width="796.25" height="60"/>
<text class="ts" x="33" y="26.8">5</text><text class="ts" x="33" y="56.8">4</text><text class="ts" x="339.25" y="26.8">4</text><text class="ts" x="339.25" y="56.8">4</text>
<text class="mn" x="32" y="-8">90</text><text class="mn" x="338.25" y="-8">91</text><text class="mn" x="583.25" y="-8">92</text>
<text class="a" x="336.75" y="76">109</text><text class="b" x="336.75" y="89.5">75923</text><text class="c" x="336.75" y="103">12.48%</text>
<text class="a" x="581.75" y="76">115</text><text class="b" x="581.75" y="89.5">77303</text><text class="c" x="581.75" y="103">0.00%</text>
<text class="a" x="826.75" y="76">50</text><text class="b" x="826.75" y="89.5">77603</text><text class="c" x="826.75" y="103">0.00%</text>
<rect class="Y" x="277" y="26.5" width="45.94" height="7"/><rect class="B" x="460.75" y="41.5" width="76.56" height="7"/>
<use href="#n" class="B" x="32" y="45"/><use href="#n" class="G" x="123.88" y="0"/><use href="#n" class="R" x="185.13" y="15"/><use href="#n" class="Y" x="277" y="30"/><use href="#n" class="B" x="338.25" y="45"/><use href="#n" class="Y" x="399.5" y="30"/><use href="#n" class="B" x="460.75" y="45"/><use href="#n" class="G" x="552.63" y="0"/><use href="#n" class="B" x="705.75" y="45"/><use href="#n" class="Y" x="767" y="30"/>
<rect class="ob" x="32" width="551.25" height="60"/>
</g>

<g id="row31" transform="translate(0,4435.5)">
<rect class="st" x="32" width="796.25" height="60"/>
<path class="ln" d="M32 15H828.25M32 30H828.25M32 45H828.25"/>
<path class="ms" d="M338.25 0V60M583.25 0V60"/>
<rect class="bd" x="32" width="796.25" height="60"/>
<text class="ts" x="33" y="26.8">5</text><text class="ts" x="33" y="56.8">4</text><text class="ts" x="339.25" y="26.8">4</text><text class="ts" x="339.25" y="56.8">4</text>
<text class="mn" x="32" y="-8">93</text><text class="mn" x="338.25" y="-8">94</text><text class="mn" x="583.25" y="-8">95</text>
<text class="a" x="336.75" y="76">124</text><text class="b" x="336.75" y="89.5">78347</text><text class="c" x="336.75" y="103">0.00%</text>
<text class="a" x="581.75" y="76">100</text><text class="b" x="581.75" y="89.5">78947</text><text class="c" x="581.75" y="103">0.00%</text>
<text class="a" x="826.75" y="76">50</text><text class="b" x="826.75" y="89.5">79247</text><text class="c" x="826.75" y="103">0.00%</text>
<rect class="B" x="32" y="41.5" width="76.56" height="7"/><rect class="Y" x="277" y="26.5" width="45.94" height="7"/>
<use href="#n" class="B" x="32" y="45"/><use href="#n" class="G" x="123.88" y="0"/><use href="#n" class="R" x="185.13" y="15"/><use href="#n" class="Y" x="277" y="30"/><use href="#n" class="B" x="338.25" y="45"/><use href="#n" class="Y" x="399.5" y="30"/><use href="#n" class="B" x="460.75" y="45"/><use href="#n" class="G" x="552.63" y="0"/><use href="#n" class="B" x="705.75" y="45"/><use href="#n" class="Y" x="767" y="30"/>
</g>

<g id="row32" transform="translate(0,4576.5)">
<rect class="st" x="32" width="796.25" height="60"/>
<path class="ln" d="M32 15H828.25M32 30H828.25M32 45H828.25"/>
<path class="ms" d="M338.25 0V60M583.25 0V60"/>
<rect class="bd" x="32" width="796.25" height="60"/>
<text class="ts" x="33" y="26.8">5</text><text class="ts" x="33" y="56.8">4</text><text class="ts" x="339.25" y="26.8">4</text><text class="ts" x="339.25" y="56.8">4</text>
<text class="mn" x="32" y="-8">96</text><text class="mn" x="338.25" y="-8">97</text><text class="mn" x="583.25" y="-8">98</text>
<text class="a" x="336.75" y="76">109</text><text class="b" x="336.75" y="89.5">79901</text><text class="c" x="336.75" y="103">0.00%</text>
<text class="a" x="581.75" y="76">100</text><text class="b" x="581.75" y="89.5">80501</text><text class="c" x="581.75" y="103">0.00%</text>
<text class="a" x="826.75" y="76">50</text><text class="b" x="826.75" y="89.5">80801</text><text class="c" x="826.75" y="103">0.00%</text>
<rect class="Y" x="277" y="26.5" width="45.94" height="7"/>
<use href="#n" class="B" x="32" y="45"/><use href="#n" class="G" x="123.88" y="0"/><use href="#n" class="R" x="185.13" y="15"/><use href="#n" class="Y" x="277" y="30"/><use href="#n" class="B" x="338.25" y="45"/><use href="#n" class="Y" x="399.5" y="30"/><use href="#n" class="B" x="460.75" y="45"/><use href="#n" class="G" x="552.63" y="0"/><use href="#n" class="B" x="705.75" y="45"/><use href="#n" class="Y" x="767" y="30"/>
</g>

<g id="row33" transform="translate(0,4717.5)">
<rect class="st" x="32" width="306.25" height="60"/>
<path class="ln" d="M32 15H338.25M32 30H338.25M32 45H338.25"/>
<rect class="bd" x="32" width="306.25" height="60"/>
<text class="ts" x="33" y="26.8">5</text><text class="ts" x="33" y="56.8">4</text>
<text class="mn" x="32" y="-8">99</text>
<text class="a" x="336.75" y="76">109</text><text class="b" x="336.75" y="89.5">81455</text><text class="c" x="336.75" y="103">0.00%</text>
<rect class="Y" x="277" y="26.5" width="45.94" height="7"/>
<use href="#n" class="B" x="32" y="45"/><use href="#n" class="G" x="123.88" y="0"/><use href="#n" class="R" x="185.13" y="15"/><use href="#n" class="Y" x="277" y="30"/>
</g>
</g>
</svg>
